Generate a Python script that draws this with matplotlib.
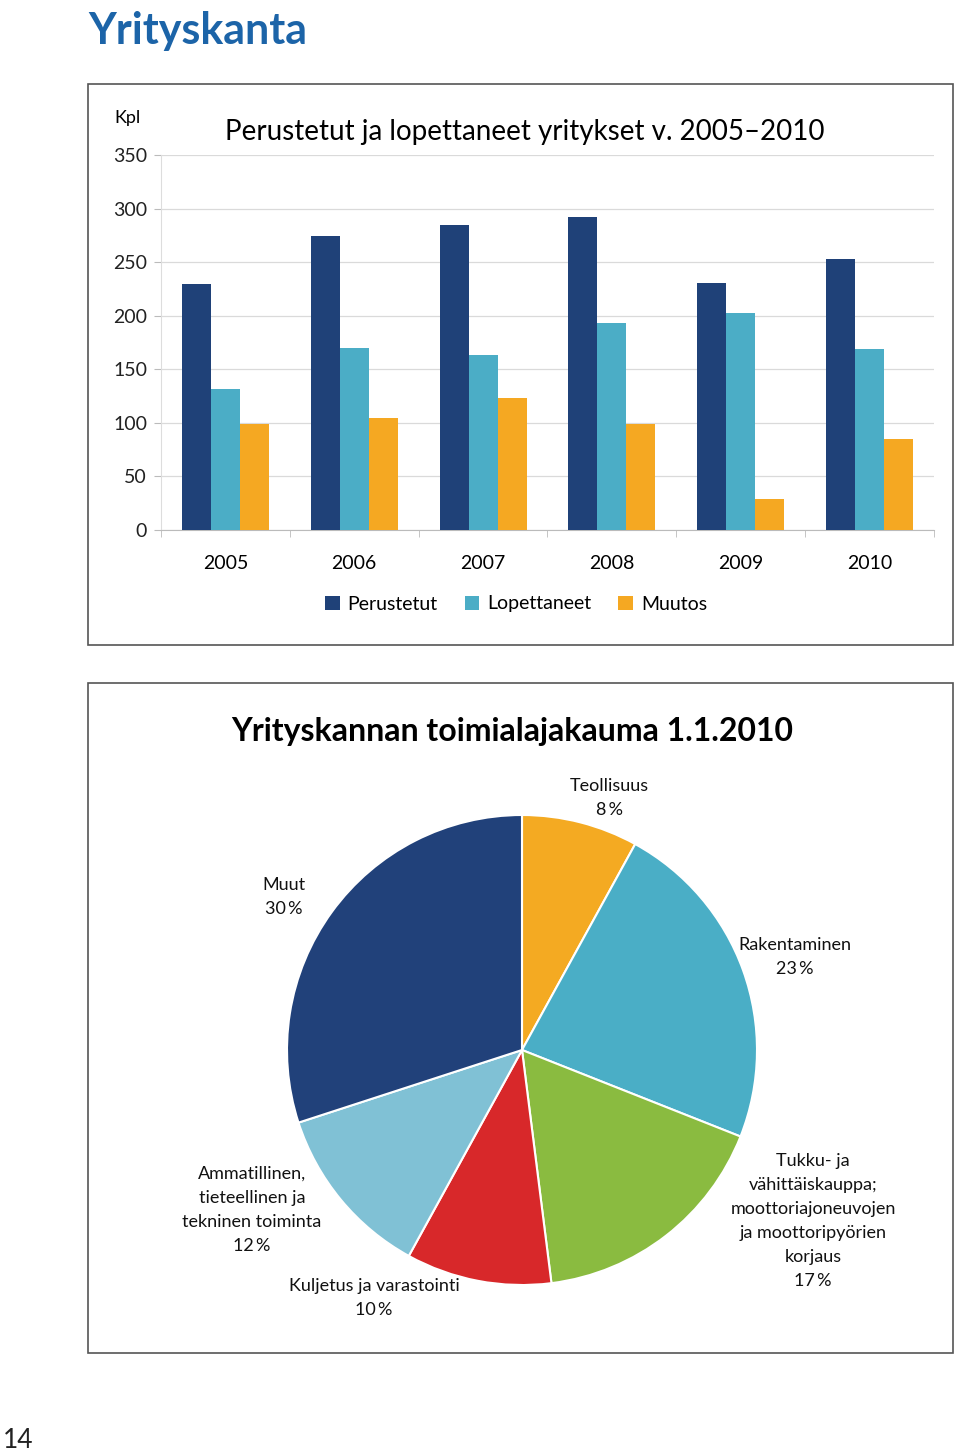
import numpy as np
import matplotlib.pyplot as plt
from matplotlib.patches import Rectangle

plt.rcParams['font.family'] = ['Lato', 'DejaVu Sans']

years = ["2005", "2006", "2007", "2008", "2009", "2010"]
perustetut = [230, 274, 285, 292, 231, 253]
lopettaneet = [132, 170, 163, 193, 203, 169]
muutos = [99, 105, 123, 99, 29, 85]
series_names = ["Perustetut", "Lopettaneet", "Muutos"]
bar_colors = ["#1F4178", "#4BADC6", "#F5A822"]

pie_labels = ["Teollisuus", "Rakentaminen",
              "Tukku- ja\nvähittäiskauppa;\nmoottoriajoneuvojen\nja moottoripyörien\nkorjaus",
              "Kuljetus ja varastointi",
              "Ammatillinen,\ntieteellinen ja\ntekninen toiminta",
              "Muut"]
pie_values = [8, 23, 17, 10, 12, 30]
pie_colors = ["#F4AA22", "#4AAEC6", "#8ABB40", "#D8282A", "#80C1D5", "#21417A"]

W, H = 960, 1452
fig = plt.figure(figsize=(W / 100, H / 100), dpi=100)


def fx(px):
    return px / W


def fy(py):
    return 1 - py / H


# page title
fig.text(fx(88), fy(31), "Yrityskanta", fontsize=31, fontweight="bold",
         color="#1C64A8", va="center", ha="left")

# frames
for top, bottom in [(84, 645), (683, 1353)]:
    fig.patches.append(Rectangle((fx(88), fy(bottom)), fx(953) - fx(88), fy(top) - fy(bottom),
                                 transform=fig.transFigure, fill=False,
                                 edgecolor="#555555", linewidth=1.2))

# ---- bar chart ----
ax = fig.add_axes([fx(161), fy(530), fx(934) - fx(161), fy(155) - fy(530)])
x = np.arange(len(years))
w = 0.225
for i, (vals, name, c) in enumerate(zip([perustetut, lopettaneet, muutos], series_names, bar_colors)):
    ax.bar(x + (i - 1) * w, vals, width=w, color=c, label=name, zorder=3)

ax.set_xlim(-0.5, len(years) - 0.5)
ax.set_ylim(0, 350)
ax.set_yticks(range(0, 351, 50))
ax.yaxis.grid(True, color="#DADADA", linewidth=0.9, zorder=0)
ax.tick_params(axis="y", length=5, labelsize=14, pad=5, colors="#BBBBBB", labelcolor="#222222")
ax.set_xticks(x)
ax.set_xticklabels(years, fontsize=14)
ax.set_xticks(np.arange(-0.5, len(years)), minor=True)
ax.tick_params(axis="x", which="major", length=0, pad=18)
ax.tick_params(axis="x", which="minor", length=5, color="#BBBBBB")
for s in ["top", "right"]:
    ax.spines[s].set_visible(False)
ax.spines["left"].set_color("#DDDDDD")
ax.spines["bottom"].set_color("#BBBBBB")

fig.text(fx(128), fy(118), "Kpl", fontsize=13, ha="center", va="center")
fig.text(fx(525), fy(132), "Perustetut ja lopettaneet yritykset v. 2005\u20132010",
         fontsize=20, ha="center", va="center")

ax.legend(loc="center", bbox_to_anchor=(fx(516), fy(604)), bbox_transform=fig.transFigure,
          ncol=3, frameon=False, fontsize=14, handlelength=0.75, handleheight=0.75,
          handletextpad=0.4, columnspacing=1.4)

# ---- pie chart ----
fig.text(fx(512), fy(732), "Yrityskannan toimialajakauma 1.1.2010", fontsize=23,
         fontweight="bold", ha="center", va="center")

r = 235
cx, cy = 522, 1050
pax = fig.add_axes([fx(cx - r), fy(cy + r), fx(2 * r), fy(cy - r) - fy(cy + r)])
pax.pie(pie_values, colors=pie_colors, startangle=90, counterclock=False,
        wedgeprops=dict(edgecolor="white", linewidth=1.5))
pax.set_xlim(-1, 1)
pax.set_ylim(-1, 1)
pax.set_aspect("auto")
pax.axis("off")

label_pos = [(609, 798), (795, 957), (813, 1221), (374, 1298), (252, 1210), (284, 897)]
for lab, v, (px, py) in zip(pie_labels, pie_values, label_pos):
    fig.text(fx(px), fy(py), f"{lab}\n{v}\u2009%", fontsize=13, ha="center", va="center",
             linespacing=1.62, color="#111111")

fig.text(fx(18), fy(1440), "14", fontsize=19, ha="center", va="center", color="#222222")

fig.savefig("out.png", dpi=100)
